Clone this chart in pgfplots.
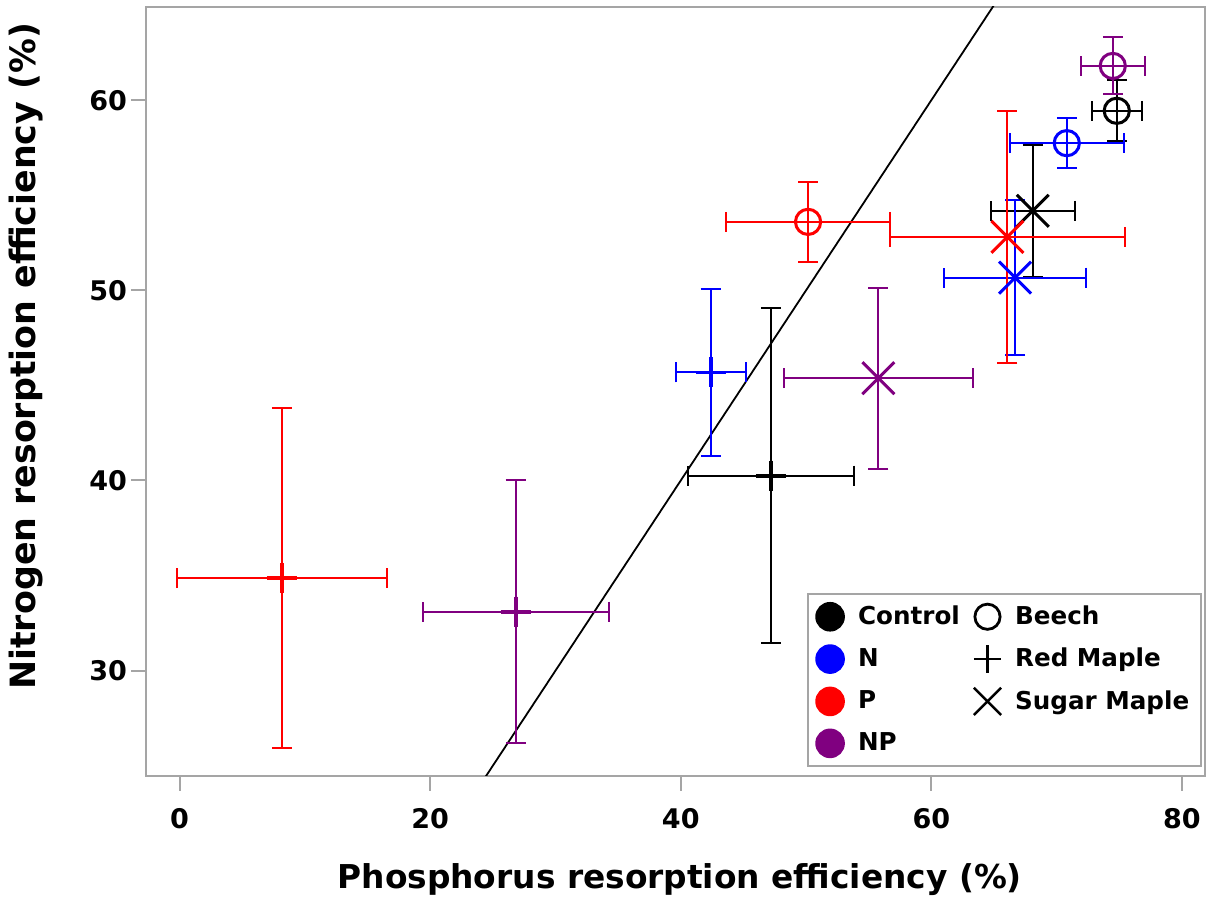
\documentclass[border=0pt]{standalone}
\usepackage{fontspec}
\setmainfont{DejaVu Sans}
\usepackage{pgfplots}
\usepackage{pgfplotstable}
\pgfplotsset{compat=1.18}

\definecolor{ctrl}{RGB}{0,0,0}
\definecolor{nadd}{RGB}{0,0,255}
\definecolor{padd}{RGB}{255,0,0}
\definecolor{npadd}{RGB}{128,0,128}
\definecolor{framegray}{RGB}{165,165,165}

% Resorption efficiencies (mean, standard error) by treatment
% rows: Control, N, P, NP
\pgfplotstableread{
trt  pre    ex    nre    ey
C    74.80  2.00  59.44  1.60
N    70.81  4.54  57.74  1.30
P    50.16  6.55  53.60  2.10
NP   74.48  2.55  61.80  1.50
}\beech
\pgfplotstableread{
trt  pre    ex    nre    ey
C    47.20  6.60  40.25  8.80
N    42.39  2.78  45.68  4.40
P     8.16  8.40  34.87  8.94
NP   26.83  7.42  33.10  6.93
}\redmaple
\pgfplotstableread{
trt  pre    ex    nre    ey
C    68.09  3.35  54.18  3.47
N    66.68  5.70  50.67  4.08
P    66.07  9.38  52.81  6.64
NP   55.77  7.56  45.38  4.75
}\sugarmaple

\pgfplotsset{
  treat/.style={only marks, forget plot,
    error bars/x dir=both, error bars/x explicit,
    error bars/y dir=both, error bars/y explicit,
    error bars/error bar style={line width=1pt},
    error bars/error mark options={rotate=90, mark size=5pt, line width=1pt}},
  beechmk/.style={mark=o, mark size=6.3pt, mark options={line width=1.5pt}},
  redmk/.style={mark=+, mark size=7.5pt, mark options={line width=1.8pt}},
  sugarmk/.style={mark=x, mark size=11.3pt, mark options={line width=1.5pt}},
  row0/.style={skip coords between index={1}{4}},
  row1/.style={skip coords between index={0}{1}, skip coords between index={2}{4}},
  row2/.style={skip coords between index={0}{2}, skip coords between index={3}{4}},
  row3/.style={skip coords between index={0}{3}},
}

\begin{document}
\begin{tikzpicture}
\useasboundingbox (-73pt,-64pt) rectangle (532pt,387.5pt);
\begin{axis}[
  width=529pt, height=384pt, scale only axis,
  xmin=-2.67, xmax=81.84, ymin=24.48, ymax=64.9,
  xtick={0,20,40,60,80}, ytick={30,40,50,60},
  xtick pos=bottom, ytick pos=left,
  tick align=outside, major tick length=7.5pt,
  axis line style={framegray, line width=1pt},
  tick style={framegray, line width=1pt},
  /pgf/number format/assume math mode=true,
  ticklabel style={font=\bfseries\fontsize{13.5}{16}\selectfont},
  yticklabel style={xshift=1.5pt},
  xticklabel style={yshift=-5.5pt},
  xlabel={Phosphorus resorption efficiency (\%)},
  ylabel={Nitrogen resorption efficiency (\%)},
  xlabel style={font=\bfseries\fontsize{16.4}{19}\selectfont,
    at={(axis description cs:0.504,-0.147)}, anchor=base},
  ylabel style={font=\bfseries\fontsize{17.4}{20}\selectfont,
    at={(axis description cs:-0.1049,0.5456)}, anchor=base},
  legend columns=2,
  legend cell align=left,
  legend style={at={(axis description cs:0.9972,0.0117)}, anchor=south east,
    draw=framegray, line width=0.8pt,
    inner xsep=4pt, inner ysep=4pt,
    row sep=6.3pt, column sep=5pt,
    font=\bfseries\fontsize{12.3}{14}\selectfont},
]
% 1:1 line
\addplot[black, line width=0.9pt, forget plot] coordinates {(20,20) (70,70)};

% Red maple
\addplot[ctrl,  treat, redmk, row0] table[x=pre, y=nre, x error=ex, y error=ey] {\redmaple};
\addplot[nadd,  treat, redmk, row1] table[x=pre, y=nre, x error=ex, y error=ey] {\redmaple};
\addplot[padd,  treat, redmk, row2] table[x=pre, y=nre, x error=ex, y error=ey] {\redmaple};
\addplot[npadd, treat, redmk, row3] table[x=pre, y=nre, x error=ex, y error=ey] {\redmaple};
% Sugar maple
\addplot[ctrl,  treat, sugarmk, row0] table[x=pre, y=nre, x error=ex, y error=ey] {\sugarmaple};
\addplot[nadd,  treat, sugarmk, row1] table[x=pre, y=nre, x error=ex, y error=ey] {\sugarmaple};
\addplot[padd,  treat, sugarmk, row2] table[x=pre, y=nre, x error=ex, y error=ey] {\sugarmaple};
\addplot[npadd, treat, sugarmk, row3] table[x=pre, y=nre, x error=ex, y error=ey] {\sugarmaple};
% Beech
\addplot[ctrl,  treat, beechmk, row0] table[x=pre, y=nre, x error=ex, y error=ey] {\beech};
\addplot[nadd,  treat, beechmk, row1] table[x=pre, y=nre, x error=ex, y error=ey] {\beech};
\addplot[padd,  treat, beechmk, row2] table[x=pre, y=nre, x error=ex, y error=ey] {\beech};
\addplot[npadd, treat, beechmk, row3] table[x=pre, y=nre, x error=ex, y error=ey] {\beech};

% Legend: colour = treatment, symbol = species
\addlegendimage{only marks, mark=*, mark size=7pt, ctrl}
\addlegendentry{Control}
\addlegendimage{only marks, mark=o, mark size=6.3pt, mark options={line width=1.4pt}, black}
\addlegendentry{Beech}
\addlegendimage{only marks, mark=*, mark size=7pt, nadd}
\addlegendentry{N}
\addlegendimage{only marks, mark=+, mark size=6.8pt, mark options={line width=1.2pt}, black}
\addlegendentry{Red Maple}
\addlegendimage{only marks, mark=*, mark size=7pt, padd}
\addlegendentry{P}
\addlegendimage{only marks, mark=x, mark size=9.6pt, mark options={line width=1.2pt}, black}
\addlegendentry{Sugar Maple}
\addlegendimage{only marks, mark=*, mark size=7pt, npadd}
\addlegendentry{NP}
\end{axis}
\end{tikzpicture}
\end{document}
